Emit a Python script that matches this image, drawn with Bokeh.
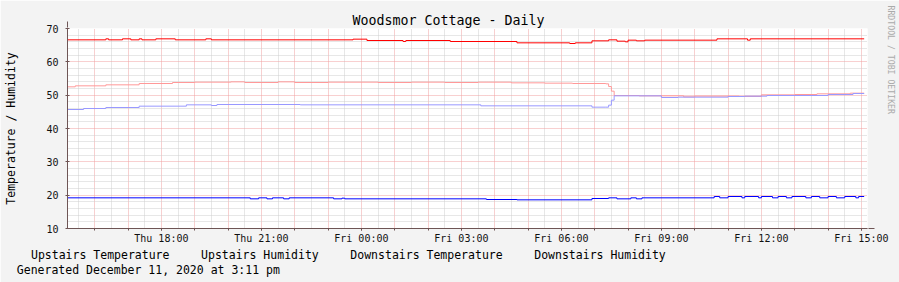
import math
import pandas as pd
from bokeh.plotting import figure
from bokeh.models import (Range1d, FixedTicker, DatetimeTickFormatter, Title,
                          Arrow, NormalHead, TeeHead, LinearAxis, CustomJSTickFormatter)
from bokeh.embed import file_html
from bokeh.resources import INLINE

# ---------------- data ----------------
title_text = "Woodsmor Cottage - Daily"
y_label_text = "Temperature / Humidity"
footer_text = "Generated December 11, 2020 at 3:11 pm"
watermark_text = "RRDTOOL / TOBI OETIKER"

series_names = ["Upstairs Temperature", "Upstairs Humidity",
                "Downstairs Temperature", "Downstairs Humidity"]
series_colors = ["#FF0000", "#FF9999", "#0000FF", "#9999FF"]

x_start = "2020-12-10 15:11"
x_end = "2020-12-11 15:11"
y_min, y_max = 10, 70
y_ticks = [10, 20, 30, 40, 50, 60, 70]
x_label_times = ["2020-12-10 18:00", "2020-12-10 21:00", "2020-12-11 00:00",
                 "2020-12-11 03:00", "2020-12-11 06:00", "2020-12-11 09:00",
                 "2020-12-11 12:00", "2020-12-11 15:00"]

ut_times = ["2020-12-10 15:10", "2020-12-10 16:20", "2020-12-10 16:25", "2020-12-10 16:50",
            "2020-12-10 17:05", "2020-12-10 17:20", "2020-12-10 17:25", "2020-12-10 17:50",
            "2020-12-10 18:25", "2020-12-10 19:20", "2020-12-10 19:30", "2020-12-10 23:45",
            "2020-12-11 00:10", "2020-12-11 01:15", "2020-12-11 01:20", "2020-12-11 02:40",
            "2020-12-11 04:40", "2020-12-11 06:15", "2020-12-11 06:25", "2020-12-11 06:55",
            "2020-12-11 07:25", "2020-12-11 07:40", "2020-12-11 07:55", "2020-12-11 08:00",
            "2020-12-11 08:15", "2020-12-11 08:30", "2020-12-11 10:40", "2020-12-11 11:35",
            "2020-12-11 11:40", "2020-12-11 15:05"]
ut_vals = [66.6, 66.9, 66.6, 66.9,
           66.6, 66.9, 66.6, 66.9,
           66.6, 66.9, 66.6, 66.8,
           66.4, 66.1, 66.4, 66.1,
           65.7, 65.5, 65.7, 66.3,
           66.6, 66.2, 66.0, 66.5,
           66.3, 66.5, 66.9, 66.5,
           66.9, 66.9]

uh_times = ["2020-12-10 15:10", "2020-12-10 15:25", "2020-12-10 16:20", "2020-12-10 17:20",
            "2020-12-10 18:20", "2020-12-10 19:00", "2020-12-10 20:05", "2020-12-10 20:30",
            "2020-12-10 21:30", "2020-12-10 22:00", "2020-12-10 23:00", "2020-12-11 00:30",
            "2020-12-11 01:30", "2020-12-11 02:30", "2020-12-11 03:30", "2020-12-11 04:30",
            "2020-12-11 05:30", "2020-12-11 06:20", "2020-12-11 07:20", "2020-12-11 07:25",
            "2020-12-11 07:30", "2020-12-11 07:35", "2020-12-11 08:20", "2020-12-11 09:40",
            "2020-12-11 10:00", "2020-12-11 11:20", "2020-12-11 12:00", "2020-12-11 13:00",
            "2020-12-11 13:40", "2020-12-11 14:40", "2020-12-11 15:05"]
uh_vals = [52.5, 52.8, 53.1, 53.5,
           53.8, 53.9, 54.0, 53.8,
           54.0, 53.8, 53.9, 53.8,
           53.9, 53.8, 53.9, 53.7,
           53.6, 53.5, 53.4, 52.6,
           51.2, 49.9, 49.8, 49.5,
           49.7, 49.6, 50.1, 50.2,
           50.4, 50.6, 50.6]

dt_times = ["2020-12-10 15:10", "2020-12-10 20:40", "2020-12-10 20:55", "2020-12-10 21:10",
            "2020-12-10 21:20", "2020-12-10 21:40", "2020-12-10 21:50", "2020-12-10 23:10",
            "2020-12-10 23:25", "2020-12-10 23:30", "2020-12-11 03:45", "2020-12-11 04:40",
            "2020-12-11 06:55", "2020-12-11 07:25", "2020-12-11 07:40", "2020-12-11 08:05",
            "2020-12-11 08:15", "2020-12-11 08:25", "2020-12-11 10:35", "2020-12-11 10:45",
            "2020-12-11 11:00", "2020-12-11 11:25", "2020-12-11 11:30", "2020-12-11 11:55",
            "2020-12-11 12:00", "2020-12-11 12:20", "2020-12-11 12:30", "2020-12-11 12:45",
            "2020-12-11 12:55", "2020-12-11 13:20", "2020-12-11 13:30", "2020-12-11 13:45",
            "2020-12-11 14:00", "2020-12-11 14:15", "2020-12-11 14:30", "2020-12-11 14:50",
            "2020-12-11 14:55", "2020-12-11 15:05"]
dt_vals = [19.2, 18.9, 19.2, 18.9,
           19.2, 18.9, 19.2, 18.9,
           19.1, 18.9, 18.7, 18.6,
           19.0, 19.2, 18.9, 19.2,
           18.9, 19.2, 19.6, 19.2,
           19.6, 19.2, 19.6, 19.2,
           19.6, 19.2, 19.6, 19.2,
           19.6, 19.2, 19.6, 19.2,
           19.6, 19.2, 19.6, 19.2,
           19.6, 19.6]

dh_times = ["2020-12-10 15:10", "2020-12-10 15:40", "2020-12-10 16:20", "2020-12-10 17:20",
            "2020-12-10 18:45", "2020-12-10 19:30", "2020-12-10 19:40", "2020-12-10 22:10",
            "2020-12-11 03:35", "2020-12-11 06:55", "2020-12-11 07:20", "2020-12-11 07:25",
            "2020-12-11 07:30", "2020-12-11 07:35", "2020-12-11 09:00", "2020-12-11 09:30",
            "2020-12-11 11:00", "2020-12-11 11:30", "2020-12-11 12:10", "2020-12-11 14:00",
            "2020-12-11 14:45", "2020-12-11 15:05"]
dh_vals = [45.7, 46.0, 46.3, 46.7,
           47.1, 46.9, 47.2, 47.1,
           46.8, 46.4, 46.4, 47.0,
           48.5, 49.8, 49.3, 49.4,
           49.6, 49.7, 49.9, 50.2,
           50.5, 50.5]

# ---------------- layout constants ----------------
W, H = 899, 282
FL, FR, FT, FB = 67, 867, 28, 228
FONT = "DejaVu Sans Mono"
BACK = "#F3F3F3"
SHADE_A = "#CBCBCB"
SHADE_B = "#999999"
AXIS_COLOR = "#6E5555"
ARROW_COLOR = "#7A2A2A"
LEG_SIZE = 11.5
CHAR_W = 0.602 * LEG_SIZE

t0 = pd.Timestamp(x_start)
t1 = pd.Timestamp(x_end)
t0_ms = t0.value / 1e6
t1_ms = t1.value / 1e6


def X(px):
    return t0_ms + (px - FL) / (FR - FL) * (t1_ms - t0_ms)


def Y(py):
    return y_min + (FB - py) / (FB - FT) * (y_max - y_min)


p = figure(width=W, height=H, x_axis_type="datetime",
           x_range=Range1d(t0, t1), y_range=Range1d(y_min, y_max),
           output_backend="svg", toolbar_location=None,
           min_border_left=FL, min_border_right=W - FR,
           min_border_top=FT, min_border_bottom=H - FB)
p.background_fill_color = "white"
p.border_fill_color = BACK
p.outline_line_color = None

# ---------------- title ----------------
p.title.text = title_text
p.title.align = "left"
p.title.offset = 285
p.title.text_font = FONT
p.title.text_font_size = "13.3px"
p.title.text_font_style = "normal"
p.title.text_color = "#000000"
p.title.standoff = 2

# ---------------- ticks / grid ----------------
label_ms = [pd.Timestamp(t).value / 1e6 for t in x_label_times]
hour_ms = [t.value / 1e6 for t in pd.date_range("2020-12-10 16:00", "2020-12-11 15:00", freq="1h")]
half_ms = [t.value / 1e6 for t in pd.date_range("2020-12-10 15:30", "2020-12-11 14:30", freq="1h")]
y_minor = [v for v in range(y_min, y_max + 1, 2) if v % 10 != 0]

p.xaxis.ticker = FixedTicker(ticks=label_ms, minor_ticks=hour_ms)
p.xgrid.ticker = FixedTicker(ticks=hour_ms, minor_ticks=half_ms)
p.yaxis.ticker = FixedTicker(ticks=y_ticks, minor_ticks=y_minor)
p.ygrid.ticker = FixedTicker(ticks=y_ticks, minor_ticks=y_minor)

fmt = "%a %H:%M"
p.xaxis.formatter = DatetimeTickFormatter(
    microseconds=fmt, milliseconds=fmt, seconds=fmt, minsec=fmt, minutes=fmt,
    hourmin=fmt, hours=fmt, days=fmt, months=fmt, years=fmt)

for g in (p.xgrid[0], p.ygrid[0]):
    g.grid_line_color = "#F0A0A0"
    g.grid_line_dash = "1 1"
    g.minor_grid_line_color = "#CFCFCF"
    g.minor_grid_line_dash = "1 1"

main_x = p.xaxis[0]
main_y = p.yaxis[0]
for ax in (main_x, main_y):
    ax.axis_line_color = AXIS_COLOR
    ax.major_tick_line_color = AXIS_COLOR
    ax.minor_tick_line_color = AXIS_COLOR
    ax.major_label_text_font = FONT
    ax.major_label_text_font_size = "10px"
    ax.major_label_text_color = "#111111"

main_x.major_tick_in = 0
main_x.major_tick_out = 2
main_x.minor_tick_in = 0
main_x.minor_tick_out = 2
main_x.major_label_standoff = 2

main_y.major_tick_in = 2
main_y.major_tick_out = 2
main_y.minor_tick_line_color = None
main_y.major_label_standoff = 5
main_y.axis_label = y_label_text
main_y.axis_label_text_font = FONT
main_y.axis_label_text_font_size = "11.5px"
main_y.axis_label_text_font_style = "normal"
main_y.axis_label_text_color = "#000000"
main_y.axis_label_standoff = 25

# ---------------- data lines ----------------
series = [(ut_times, ut_vals), (uh_times, uh_vals), (dt_times, dt_vals), (dh_times, dh_vals)]
for (ts, vs), col in zip(series, series_colors):
    p.step(x=pd.to_datetime(ts), y=vs, mode="after", line_color=col, line_width=1)

# ---------------- axis arrows ----------------
p.add_layout(Arrow(end=NormalHead(size=6, fill_color=ARROW_COLOR, line_color=ARROW_COLOR),
                   x_start=t1_ms, y_start=y_min, x_end=X(874), y_end=y_min,
                   line_color=AXIS_COLOR, line_width=1))
p.add_layout(Arrow(end=NormalHead(size=6, fill_color=ARROW_COLOR, line_color=ARROW_COLOR),
                   x_start=t0_ms, y_start=y_max, x_end=t0_ms, y_end=Y(21),
                   line_color=AXIS_COLOR, line_width=1))

# ---------------- 3D frame around the image (bars drawn as tee heads) ----------------
# the shafts lie outside the plot frame (so they are clipped away); the tee bar is
# centred on the end point, perpendicular to the shaft
frame_bars = [((W / 2, 20), (W / 2, 1), W, SHADE_A),          # top
              ((30, H / 2), (1, H / 2), H, SHADE_A),          # left
              ((W - 20, H / 2), (W - 1, H / 2), H, SHADE_B),  # right
              ((W / 2, H - 20), (W / 2, H - 1), W, SHADE_B)]  # bottom
for (xa, ya), (xb, yb), length, col in frame_bars:
    p.add_layout(Arrow(end=TeeHead(size=length, line_width=2, line_color=col),
                       x_start=X(xa), y_start=Y(ya), x_end=X(xb), y_end=Y(yb),
                       line_color=col, line_width=1))

# ---------------- watermark (right) ----------------
p.add_layout(Title(text=" ", standoff=15, text_font=FONT, text_font_size="1px",
                   text_color=BACK), "right")
p.add_layout(Title(text=watermark_text, align="left", offset=-23, standoff=0,
                   text_font=FONT, text_font_size="8.2px",
                   text_font_style="normal", text_color="#AAAAAA"), "right")

# ---------------- legend row (swatches + labels on an extra axis) ----------------
sw_left = []
txt_left = []
xx = 16.5
for name in series_names:
    sw_left.append(xx)
    txt_left.append(xx + 14)
    xx = xx + 14 + len(name) * CHAR_W + 17.6

SW_MID = 254
for sx, col in zip(sw_left, series_colors):
    cx = sx + 3.5
    p.add_layout(Arrow(end=TeeHead(size=8, line_width=8, line_color="black"),
                       x_start=X(cx - 20), y_start=Y(SW_MID), x_end=X(cx), y_end=Y(SW_MID),
                       line_color="black", line_width=1))
    p.add_layout(Arrow(end=TeeHead(size=6, line_width=6, line_color=col),
                       x_start=X(cx - 20), y_start=Y(SW_MID), x_end=X(cx), y_end=Y(SW_MID),
                       line_color=col, line_width=1))

legend_centers = [X(tx + len(n) * CHAR_W / 2) for tx, n in zip(txt_left, series_names)]
legend_axis = LinearAxis(
    ticker=FixedTicker(ticks=legend_centers, minor_ticks=[]),
    formatter=CustomJSTickFormatter(args=dict(names=series_names),
                                    code="return names[index]"),
    axis_line_color=None, major_tick_line_color=None, minor_tick_line_color=None,
    major_tick_in=0, major_tick_out=0, minor_tick_in=0, minor_tick_out=0,
    major_label_standoff=1, major_label_text_font=FONT,
    major_label_text_font_size=f"{LEG_SIZE}px", major_label_text_color="#000000")
p.add_layout(legend_axis, "below")

footer_center = [X(16.3 + len(footer_text) * CHAR_W / 2)]
footer_axis = LinearAxis(
    ticker=FixedTicker(ticks=footer_center, minor_ticks=[]),
    formatter=CustomJSTickFormatter(args=dict(txt=footer_text), code="return txt"),
    axis_line_color=None, major_tick_line_color=None, minor_tick_line_color=None,
    major_tick_in=0, major_tick_out=0, minor_tick_in=0, minor_tick_out=0,
    major_label_standoff=-2, major_label_text_font=FONT,
    major_label_text_font_size=f"{LEG_SIZE}px", major_label_text_color="#000000")
p.add_layout(footer_axis, "below")

open("out.html", "w").write(file_html(p, INLINE))
